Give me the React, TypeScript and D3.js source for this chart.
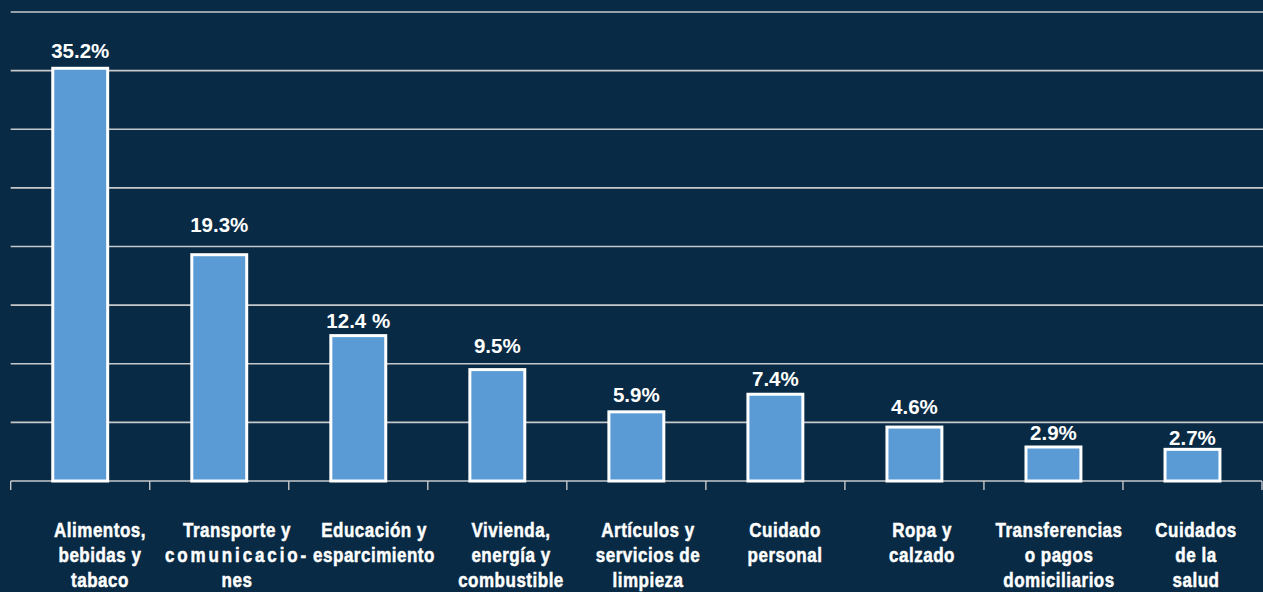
import React from "react";
import * as d3 from "d3";

const categories: string[] = [
  "Alimentos,\nbebidas y\ntabaco",
  "Transporte y\ncomunicacio-\nnes",
  "Educación y\nesparcimiento",
  "Vivienda,\nenergía y\ncombustible",
  "Artículos y\nservicios de\nlimpieza",
  "Cuidado\npersonal",
  "Ropa y\ncalzado",
  "Transferencias\no pagos\ndomiciliarios",
  "Cuidados\nde la\nsalud",
];

const values: number[] = [35.2, 19.3, 12.4, 9.5, 5.9, 7.4, 4.6, 2.9, 2.7];

const valueLabels: string[] = ["35.2%", "19.3%", "12.4 %", "9.5%", "5.9%", "7.4%", "4.6%", "2.9%", "2.7%"];

const gridTicks: number[] = [0, 5, 10, 15, 20, 25, 30, 35, 40];

// layout-only: pixel gap between each value label baseline and its bar top
const labelLift: number[] = [9, 21, 6, 15, 8, 7, 12, 5, 3];

const W = 1263;
const H = 592;
const left = 10.7;
const right = 1262;
const baseY = 481;
const topY = 12;
const condense = 0.85;

export default function App() {
  const x = d3.scaleBand<string>().domain(categories).range([left, right]).paddingInner(0).paddingOuter(0);
  const y = d3.scaleLinear().domain([0, 40]).range([baseY, topY]);
  const labelX = d3.scalePoint<string>().domain(categories).range([100, 1196]);
  const bw = x.bandwidth() * 0.395;
  const lineH = 25.3;

  return (
    <svg
      width={W}
      height={H}
      style={{ position: "absolute", left: 0, top: 0, display: "block" }}
    >
      <rect x={0} y={0} width={W} height={H} fill="#082A44" />
      {gridTicks.map((t) =>
        t === 0 ? null : (
          <line key={t} x1={left} x2={W} y1={y(t)} y2={y(t)} stroke="#C6C8CA" strokeWidth={1.6} />
        )
      )}
      {/* x axis */}
      <line x1={left} x2={right} y1={baseY} y2={baseY} stroke="#C6C8CA" strokeWidth={1.6} />
      {[...categories.map((c) => x(c) as number), right].map((tx, i) => (
        <line key={"tk" + i} x1={tx} x2={tx} y1={baseY} y2={baseY + 9} stroke="#C6C8CA" strokeWidth={1.4} />
      ))}
      {categories.map((c, i) => {
        const cx = (x(c) as number) + x.bandwidth() / 2;
        const yt = y(values[i]);
        return (
          <g key={c}>
            <rect
              x={cx - bw / 2}
              y={yt}
              width={bw}
              height={baseY - yt}
              fill="#5B9BD5"
              stroke="#FFFFFF"
              strokeWidth={3}
            />
            <text
              x={cx}
              y={yt - 1.5 - labelLift[i]}
              textAnchor="middle"
              fill="#FFFFFF"
              fontFamily="'Liberation Sans', Arial, sans-serif"
              fontWeight="bold"
              fontSize={20.5}
            >
              {valueLabels[i]}
            </text>
          </g>
        );
      })}
      {categories.map((c) => {
        const lx = labelX(c) as number;
        const lines = c.split("\n");
        return (
          <g key={"lbl" + c} transform={`translate(${lx},0) scale(${condense},1)`}>
            <text
              x={0}
              y={536.7}
              textAnchor="middle"
              fill="#FFFFFF"
              stroke="#FFFFFF"
              strokeWidth={0.5}
              fontFamily="'Liberation Sans', Arial, sans-serif"
              fontWeight="bold"
              fontSize={20}
            >
              {lines.map((ln, j) => (
                <tspan
                  key={j}
                  x={0}
                  dy={j === 0 ? 0 : lineH}
                  letterSpacing={ln.endsWith("-") ? 3.4 : 0.6}
                >
                  {ln}
                </tspan>
              ))}
            </text>
          </g>
        );
      })}
    </svg>
  );
}
